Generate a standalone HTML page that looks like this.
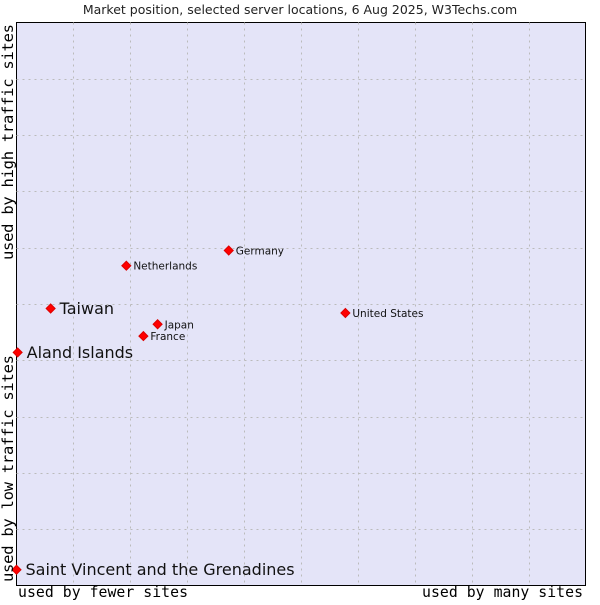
<!DOCTYPE html>
<html><head><meta charset="utf-8"><style>
body{margin:0;background:#fff;width:600px;height:600px;overflow:hidden}
svg text{font-family:"DejaVu Sans","Liberation Sans",sans-serif}
.m{font-family:"DejaVu Sans Mono",monospace !important}
</style></head><body>
<svg id="c" width="600" height="600">
<text x="300" y="14" text-anchor="middle" font-size="12.5" fill="#222">Market position, selected server locations, 6 Aug 2025, W3Techs.com</text>
<rect x="16.5" y="22.5" width="569" height="563" fill="#e4e4f8" stroke="#000"/>
<g id="grid"></g>
<g id="pts"></g>
<text class="m" x="18" y="597" font-size="14.8" textLength="170">used by fewer sites</text>
<text class="m" x="422" y="597" font-size="14.8" textLength="161">used by many sites</text>
<text class="m" transform="translate(13,582) rotate(-90)" font-size="15.5" textLength="227">used by low traffic sites</text>
<text class="m" transform="translate(13,260) rotate(-90)" font-size="15.5" textLength="236">used by high traffic sites</text>
</svg>
<script>
const names=["Saint Vincent and the Grenadines","Aland Islands","Taiwan","Netherlands","Germany","Japan","France","United States"];
const xs=[0,0.2,6.0,19.3,37.3,24.8,22.3,57.8];
const ys=[2.8,41.4,49.2,56.8,59.5,46.4,44.3,48.4];
const big=[true,true,true,false,false,false,false,false];
const L=16.5,R=585.5,T=22.5,B=585.5;
const sx=v=>L+v/100*(R-L), sy=v=>B-v/100*(B-T);
const NS="http://www.w3.org/2000/svg";
const g=document.getElementById('grid');
for(let i=1;i<10;i++){
 let l=document.createElementNS(NS,'line');
 
 
 l.setAttribute('x1',Math.round(sx(i*10))+.5);l.setAttribute('x2',Math.round(sx(i*10))+.5);l.setAttribute('y1',T);l.setAttribute('y2',B);
 l.setAttribute('stroke','#bbb');l.setAttribute('stroke-dasharray','2,4');g.appendChild(l);
 let h=document.createElementNS(NS,'line');
 
 
 h.setAttribute('y1',Math.round(sy(i*10))+.5);h.setAttribute('y2',Math.round(sy(i*10))+.5);h.setAttribute('x1',L);h.setAttribute('x2',R);
 h.setAttribute('stroke','#bbb');h.setAttribute('stroke-dasharray','2,4');g.appendChild(h);
}
const p=document.getElementById('pts');
names.forEach((n,i)=>{
 const x=sx(xs[i]),y=sy(ys[i]);
 let d=document.createElementNS(NS,'path');
 
 
 d.setAttribute('d',`M${x-4.5},${y} L${x},${y-4.5} L${x+4.5},${y} L${x},${y+4.5}Z`);
 d.setAttribute('fill','#f00');d.setAttribute('stroke','#d00');p.appendChild(d);
 let t=document.createElementNS(NS,'text');
 
 
 t.setAttribute('x',x+(big[i]?9:7));t.setAttribute('y',y+(big[i]?5.5:4));
 t.setAttribute('font-size',big[i]?'16':'10.5');t.setAttribute('fill','#111');
 t.textContent=n;p.appendChild(t);
});
</script>
</body></html>
